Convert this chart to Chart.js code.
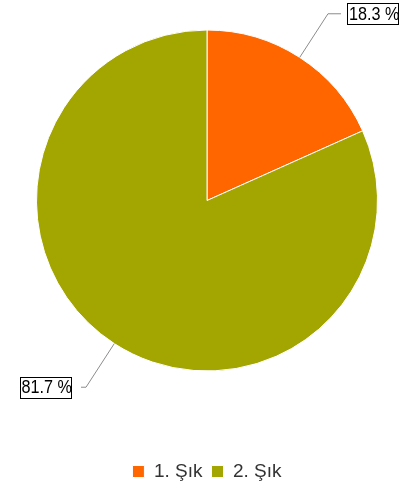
<!DOCTYPE html>
<html>
<head>
<meta charset="utf-8">
<script src="https://cdn.jsdelivr.net/npm/chart.js@4/dist/chart.umd.min.js"></script>
<style>
  html, body { margin: 0; padding: 0; background: #fff; }
  #wrap { width: 405px; height: 491px; }
</style>
</head>
<body>
<div id="wrap"><canvas id="pieChart"></canvas></div>
<script>
const categories = ['1. Şık', '2. Şık'];
const shares = [18.3, 81.7];
const sliceColors = ['#ff6600', '#a3a500'];

const labelSquash = 0.9; // label font is a bit condensed

// leader lines + boxed percent labels
const boxLabels = {
    id: 'boxLabels',
    afterDatasetsDraw(chart) {
        const ctx = chart.ctx;
        const meta = chart.getDatasetMeta(0);
        const total = shares.reduce((a, b) => a + b, 0);
        ctx.save();
        ctx.font = '18px "Liberation Sans", Arial, sans-serif';
        ctx.textBaseline = 'middle';
        meta.data.forEach((arc, i) => {
            const p = arc.getProps(['x', 'y', 'startAngle', 'endAngle', 'outerRadius'], true);
            const mid = (p.startAngle + p.endAngle) / 2;
            const cos = Math.cos(mid), sin = Math.sin(mid);
            const x1 = p.x + cos * p.outerRadius;
            const y1 = p.y + sin * p.outerRadius;
            const x2 = p.x + cos * (p.outerRadius + 52);
            const y2 = p.y + sin * (p.outerRadius + 52);
            const dir = cos >= 0 ? 1 : -1;
            const x3 = x2 + dir * (dir > 0 ? 13 : 5);

            ctx.strokeStyle = '#8c8c8c';
            ctx.lineWidth = 1;
            ctx.beginPath();
            ctx.moveTo(x1, y1);
            ctx.lineTo(x2, y2);
            ctx.lineTo(x3, y2);
            ctx.stroke();

            const text = (shares[i] / total * 100).toFixed(1) + ' %';
            const tw = ctx.measureText(text).width * labelSquash;
            const w = tw + 1;
            const h = 21;
            const bx = dir > 0 ? x3 + 6 : x3 - 10 - w;
            const by = y2 - h / 2;
            ctx.fillStyle = '#fff';
            ctx.fillRect(bx, by, w, h);
            ctx.strokeStyle = '#000';
            ctx.strokeRect(Math.round(bx) + 0.5, Math.round(by) + 0.5, Math.round(w), h);
            ctx.fillStyle = '#000';
            ctx.textAlign = 'left';
            ctx.save();
            ctx.translate(bx + 2, y2 + 1);
            ctx.scale(labelSquash, 1);
            ctx.fillText(text, 0, 0);
            ctx.restore();
        });
        ctx.restore();
    }
};

new Chart(document.getElementById('pieChart'), {
    type: 'pie',
    data: {
        labels: categories,
        datasets: [{
            data: shares,
            backgroundColor: sliceColors,
            borderColor: '#ffffff',
            borderWidth: 1
        }]
    },
    options: {
        responsive: true,
        maintainAspectRatio: false,
        animation: false,
        layout: { padding: { top: 29.5, left: 9, right: 0, bottom: 0 } },
        plugins: {
            tooltip: { enabled: false },
            legend: {
                position: 'bottom',
                title: { display: true, text: '', font: { size: 10 }, padding: { top: 69.5, bottom: 0 } },
                labels: {
                    boxWidth: 12,
                    boxHeight: 12,
                    padding: 9,
                    color: '#333',
                    font: { size: 19, family: '"Liberation Sans", Arial, sans-serif' }
                }
            }
        }
    },
    plugins: [boxLabels]
});
</script>
</body>
</html>
